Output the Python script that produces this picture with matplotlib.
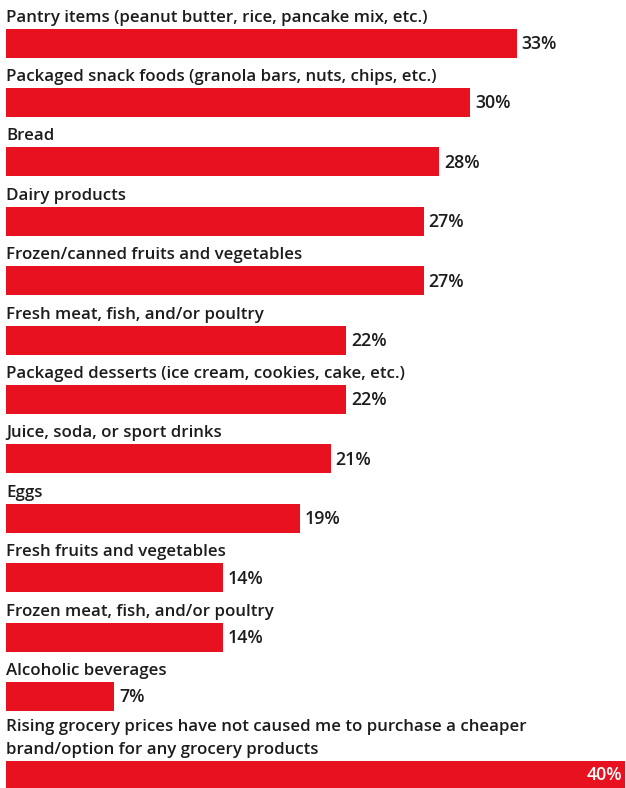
import matplotlib.pyplot as plt

# Данные
categories = [
    "Pantry items (peanut butter, rice, pancake mix, etc.)",
    "Packaged snack foods (granola bars, nuts, chips, etc.)",
    "Bread",
    "Dairy products",
    "Frozen/canned fruits and vegetables",
    "Fresh meat, fish, and/or poultry",
    "Packaged desserts (ice cream, cookies, cake, etc.)",
    "Juice, soda, or sport drinks",
    "Eggs",
    "Fresh fruits and vegetables",
    "Frozen meat, fish, and/or poultry",
    "Alcoholic beverages",
    "Rising grocery prices have not caused me to purchase a cheaper\nbrand/option for any grocery products",
]
values = [33, 30, 28, 27, 27, 22, 22, 21, 19, 14, 14, 7, 40]

red = "#e8111f"
dark = "#1c1c1c"
plt.rcParams['font.family'] = ['Open Sans', 'DejaVu Sans']

W, H = 626, 788
fig = plt.figure(figsize=(W / 100, H / 100), dpi=100)
ax = fig.add_axes([6 / W, 0, 619 / W, 1])
ax.set_xlim(0, 40)
ax.set_ylim(H, 0)  # ось y в пикселях, сверху вниз
ax.axis("off")

bar_h = 29
# центры полос
centers = [43 + i * 59.4 for i in range(12)] + [43 + 11 * 59.4 + 79]

ax.barh(centers, values, height=bar_h, color=red, edgecolor="none")

for i, (cat, v, y) in enumerate(zip(categories, values, centers)):
    top = y - bar_h / 2
    ax.text(0, top - 3, cat, ha="left", va="bottom", fontsize=12.2,
            fontweight="semibold", color=dark, linespacing=1.55)
    if i == len(values) - 1:
        ax.text(v - 0.15, y, f"{v}%", ha="right", va="center", fontsize=12.8,
                fontweight="semibold", color="white")
    else:
        ax.text(v + 0.3, y + 1, f"{v}%", ha="left", va="center", fontsize=12.8,
                fontweight="semibold", color=dark)

plt.savefig("out.png", dpi=100)
